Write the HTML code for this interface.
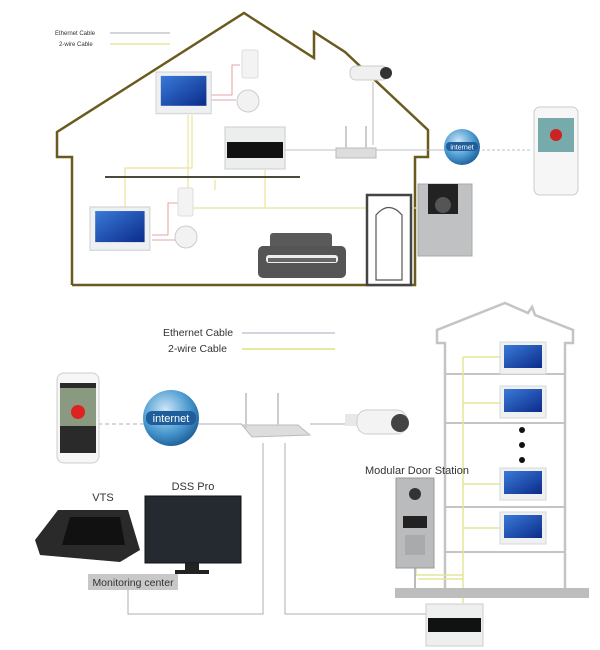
<!DOCTYPE html>
<html><head><meta charset="utf-8"><style>
html,body{margin:0;padding:0;background:#fff;}
svg{display:block;font-family:"Liberation Sans",sans-serif;}
</style></head><body>
<svg width="600" height="650" viewBox="0 0 600 650" xmlns="http://www.w3.org/2000/svg">
<defs>
<linearGradient id="scr" x1="0" y1="0" x2="1" y2="1"><stop offset="0" stop-color="#3a7ad8"/><stop offset="1" stop-color="#0b2b8a"/></linearGradient>
<radialGradient id="glb" cx="0.4" cy="0.35" r="0.7"><stop offset="0" stop-color="#cfe7f7"/><stop offset="0.6" stop-color="#4a9ad0"/><stop offset="1" stop-color="#1b5a96"/></radialGradient>
<g id="mon"><rect x="0" y="0" width="46" height="32" fill="#eef0f2" stroke="#d6d8da"/><rect x="4" y="3" width="38" height="23" fill="url(#scr)"/></g>
</defs>

<!-- TOP HOUSE -->
<text x="55" y="35" font-size="6" fill="#333">Ethernet Cable</text>
<line x1="110" y1="33" x2="170" y2="33" stroke="#aab" stroke-width="1"/>
<text x="59" y="46" font-size="6" fill="#333">2-wire Cable</text>
<line x1="110" y1="44" x2="170" y2="44" stroke="#e6e9a0" stroke-width="1.5"/>

<polyline points="72,285 72,157 57,157 57,132 244,13 314,58 314,32 345,52 428,130 428,157 415,157 415,285 72,285" fill="none" stroke="#6b5a1e" stroke-width="2.5"/>

<!-- cables top -->
<g fill="none" stroke="#e8e49a" stroke-width="1.2">
<polyline points="188,115 188,208 445,208 445,185"/>
<polyline points="192,115 192,168 125,168 125,230"/>
<polyline points="265,170 265,208"/>
<polyline points="215,180 215,190"/>
</g>
<g fill="none" stroke="#d88" stroke-width="0.8">
<polyline points="210,95 232,95 232,65 240,65"/>
<polyline points="210,100 230,100 230,100 236,100"/>
<polyline points="152,235 168,235 168,203 178,203"/>
<polyline points="152,240 175,240"/>
</g>
<g fill="none" stroke="#aaa" stroke-width="0.8">
<line x1="285" y1="150" x2="345" y2="150"/>
<line x1="375" y1="150" x2="445" y2="150"/>
<line x1="373" y1="82" x2="373" y2="145"/>
<line x1="482" y1="150" x2="530" y2="150" stroke-dasharray="3,2"/>
</g>
<line x1="105" y1="177" x2="300" y2="177" stroke="#4a4a3a" stroke-width="2"/>

<use href="#mon" x="156" y="72" transform="translate(156,72) scale(1.2,1.3) translate(-156,-72)"/>
<use href="#mon" x="90" y="207" transform="translate(90,207) scale(1.3,1.35) translate(-90,-207)"/>
<rect x="242" y="50" width="16" height="28" rx="2" fill="#f3f3f3" stroke="#ddd"/>
<circle cx="248" cy="101" r="11" fill="#f2f2f2" stroke="#ccc"/>
<rect x="178" y="188" width="15" height="28" rx="2" fill="#f3f3f3" stroke="#ddd"/>
<circle cx="186" cy="237" r="11" fill="#f2f2f2" stroke="#ccc"/>
<!-- camera -->
<rect x="350" y="66" width="38" height="14" rx="6" fill="#f0f0f0" stroke="#ccc"/>
<circle cx="386" cy="73" r="6" fill="#333"/>
<!-- module -->
<rect x="225" y="127" width="60" height="42" fill="#eceeee" stroke="#ccc"/>
<rect x="227" y="142" width="56" height="16" fill="#111"/>
<!-- router -->
<rect x="336" y="148" width="40" height="10" fill="#ddd" stroke="#bbb"/>
<line x1="346" y1="126" x2="346" y2="148" stroke="#ccc" stroke-width="2"/>
<line x1="366" y1="126" x2="366" y2="148" stroke="#ccc" stroke-width="2"/>
<!-- globe -->
<circle cx="462" cy="147" r="18" fill="url(#glb)"/>
<rect x="446" y="142" width="32" height="9" rx="4" fill="#1f5e9a"/>
<text x="462" y="149.5" font-size="7" fill="#fff" text-anchor="middle">internet</text>
<!-- phone -->
<rect x="534" y="107" width="44" height="88" rx="6" fill="#f6f6f6" stroke="#ccc"/>
<rect x="538" y="118" width="36" height="34" fill="#7aa"/>
<circle cx="556" cy="135" r="6" fill="#c22"/>
<!-- door station -->
<rect x="418" y="184" width="54" height="72" fill="#bfc1c3" stroke="#aaa"/>
<rect x="428" y="184" width="30" height="30" fill="#222"/>
<circle cx="443" cy="205" r="8" fill="#555"/>
<!-- door -->
<rect x="367" y="195" width="44" height="90" fill="#fff" stroke="#444" stroke-width="2.5"/>
<path d="M376,280 V215 Q389,200 402,215 V280 Z" fill="none" stroke="#555" stroke-width="1.2"/>
<!-- sofa -->
<rect x="270" y="233" width="62" height="22" rx="3" fill="#5a5a5a"/>
<rect x="258" y="246" width="88" height="32" rx="5" fill="#555"/>
<rect x="266" y="255" width="72" height="8" rx="3" fill="#fff" opacity="0.9"/>
<rect x="268" y="258" width="68" height="4" fill="#666"/>

<!-- BOTTOM -->
<text x="163" y="336" font-size="10.5" fill="#333">Ethernet Cable</text>
<line x1="242" y1="333" x2="335" y2="333" stroke="#aab" stroke-width="1"/>
<text x="168" y="352" font-size="10.5" fill="#333">2-wire Cable</text>
<line x1="242" y1="349" x2="335" y2="349" stroke="#e6e9a0" stroke-width="2"/>

<g fill="none" stroke="#a9b0bb" stroke-width="1">
<line x1="98" y1="424" x2="145" y2="424" stroke-dasharray="4,3"/>
<line x1="198" y1="424" x2="242" y2="424"/>
<line x1="310" y1="424" x2="345" y2="424"/>
<polyline points="128,590 128,614 263,614 263,443"/>
<polyline points="285,443 285,614 430,614"/>
</g>
<!-- phone -->
<rect x="57" y="373" width="42" height="90" rx="7" fill="#f6f6f6" stroke="#ccc"/>
<rect x="60" y="383" width="36" height="70" fill="#2a2a2a"/>
<rect x="60" y="388" width="36" height="38" fill="#8a9a80"/>
<circle cx="78" cy="412" r="7" fill="#d22"/>
<!-- globe -->
<circle cx="171" cy="418" r="28" fill="url(#glb)"/>
<rect x="146" y="411" width="50" height="14" rx="6" fill="#1f5e9a"/>
<text x="171" y="422" font-size="11" fill="#fff" text-anchor="middle">internet</text>
<!-- router -->
<path d="M242,425 L298,425 L310,435 L252,437 Z" fill="#ddd" stroke="#bbb"/>
<line x1="246" y1="393" x2="246" y2="428" stroke="#ccc" stroke-width="2"/>
<line x1="278" y1="393" x2="278" y2="425" stroke="#ccc" stroke-width="2"/>
<!-- camera -->
<rect x="345" y="414" width="14" height="12" fill="#e8e8e8"/>
<rect x="357" y="410" width="50" height="24" rx="10" fill="#f3f3f3" stroke="#ccc"/>
<circle cx="400" cy="423" r="9" fill="#444"/>
<!-- VTS -->
<text x="103" y="501" font-size="11" fill="#333" text-anchor="middle">VTS</text>
<path d="M58,510 L128,510 L140,550 L120,562 L40,555 L35,540 Z" fill="#2a2a2a"/>
<path d="M70,517 L120,517 L125,545 L62,545 Z" fill="#111"/>
<!-- DSS Pro -->
<text x="193" y="490" font-size="11" fill="#333" text-anchor="middle">DSS Pro</text>
<rect x="145" y="496" width="96" height="67" fill="#252a30" stroke="#111"/>
<rect x="185" y="563" width="14" height="8" fill="#222"/>
<rect x="175" y="570" width="34" height="4" fill="#222"/>
<rect x="88" y="574" width="90" height="16" fill="#c8c8c8"/>
<text x="133" y="586" font-size="10.5" fill="#333" text-anchor="middle">Monitoring center</text>

<!-- building -->
<polyline points="445,588 445,343 437,343 437,330 505,303 528,313 532,307 535,315 573,330 573,343 565,343 565,588" fill="none" stroke="#c4c4c4" stroke-width="2.5"/>
<g stroke="#c4c4c4" stroke-width="2">
<line x1="445" y1="374" x2="565" y2="374"/>
<line x1="445" y1="423" x2="565" y2="423"/>
<line x1="445" y1="507" x2="565" y2="507"/>
<line x1="445" y1="552" x2="565" y2="552"/>
</g>
<g fill="none" stroke="#e3e69a" stroke-width="1.5">
<line x1="463" y1="357" x2="463" y2="603"/>
<line x1="463" y1="357" x2="500" y2="357"/>
<line x1="463" y1="403" x2="500" y2="403"/>
<line x1="463" y1="484" x2="500" y2="484"/>
<line x1="463" y1="528" x2="500" y2="528"/>
<polyline points="416,568 416,575 463,575"/>
<line x1="418" y1="579" x2="463" y2="579"/>
</g>
<use href="#mon" transform="translate(500,342)"/>
<use href="#mon" transform="translate(500,386)"/>
<use href="#mon" transform="translate(500,468)"/>
<use href="#mon" transform="translate(500,512)"/>
<circle cx="522" cy="430" r="3" fill="#111"/>
<circle cx="522" cy="445" r="3" fill="#111"/>
<circle cx="522" cy="460" r="3" fill="#111"/>
<rect x="395" y="588" width="194" height="10" fill="#bdbdbd"/>
<line x1="415" y1="568" x2="415" y2="588" stroke="#bbb" stroke-width="2"/>
<text x="365" y="474" font-size="11" fill="#333">Modular Door Station</text>
<rect x="396" y="478" width="38" height="90" fill="#b9bbbd" stroke="#999"/>
<circle cx="415" cy="494" r="6" fill="#333"/>
<rect x="403" y="516" width="24" height="12" fill="#222"/>
<rect x="405" y="535" width="20" height="20" fill="#a8aaac"/>
<!-- module -->
<rect x="426" y="604" width="57" height="42" fill="#eef0f0" stroke="#ccc"/>
<rect x="428" y="618" width="53" height="14" fill="#111"/>
</svg>
</body></html>
